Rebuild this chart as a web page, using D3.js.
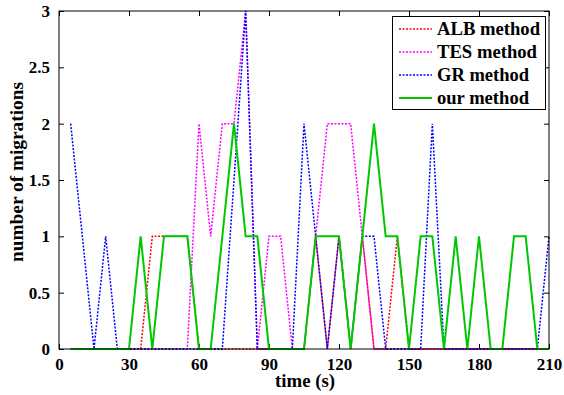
<!DOCTYPE html>
<html><head><meta charset="utf-8">
<script src="https://cdn.jsdelivr.net/npm/d3@7"></script>
<style>body{margin:0;background:#fff}svg{display:block}</style>
</head><body>
<svg id="c" width="564" height="395"></svg>
<script>
const times = d3.range(5, 215, 5);
const albValues = [0,0,0,0,0,0,0,1,1,1,1,0,0,0,0,0,0,0,0,0,0,1,0,1,0,1,0,0,1,0,0,0,0,0,0,0,0,0,0,0,0,0];
const tesValues = [0,0,0,0,0,0,0,0,0,0,0,2,1,2,2,3,0,1,1,0,0,1,2,2,2,1,0,0,0,0,0,0,0,0,0,0,0,0,0,0,0,0];
const grValues  = [2,1,0,1,0,0,0,0,0,0,0,0,0,0,1.5,3,0,0,0,0,2,1,0,1,0,1,1,0,0,0,0,2,0,0,0,0,0,0,0,0,0,1];
const ourValues = [0,0,0,0,0,0,1,0,1,1,1,0,0,1,2,1,1,0,0,0,0,1,1,1,0,1,2,1,1,0,1,1,0,1,0,1,0,0,1,1,0,0];
const seriesNames = ["ALB method","TES method","GR method","our method"];
const xTicks = [0,30,60,90,120,150,180,210];
const yTicks = [0,0.5,1,1.5,2,2.5,3];
const xLabel = "time (s)";
const yLabel = "number of migrations";

const series = [
  {name: seriesNames[0], values: albValues, color: "#ff0000", dash: "2,1.5", w: 1.5, tl: 103},
  {name: seriesNames[1], values: tesValues, color: "#ff00ff", dash: "2,1.5", w: 1.5, tl: 100},
  {name: seriesNames[2], values: grValues,  color: "#0000ff", dash: "2,1.5", w: 1.5, tl: 92},
  {name: seriesNames[3], values: ourValues, color: "#00c800", dash: null, w: 2, tl: 92}
];

const L = 59, R = 549, T = 11, B = 349;
const svg = d3.select("#c");
const x = d3.scaleLinear().domain([0,210]).range([L,R]);
const y = d3.scaleLinear().domain([0,3]).range([B,T]);
const font = "'Liberation Serif','Times New Roman',serif";

const tl = 5;
svg.append("g").attr("transform",`translate(0,${B})`)
  .call(d3.axisBottom(x).tickValues(xTicks).tickFormat(d3.format("d")).tickSizeInner(-tl).tickSizeOuter(0).tickPadding(9))
  .call(g=>g.select(".domain").remove());
svg.append("g").attr("transform",`translate(0,${T})`)
  .call(d3.axisTop(x).tickValues(xTicks).tickFormat("").tickSizeInner(-tl).tickSizeOuter(0))
  .call(g=>g.select(".domain").remove());
svg.append("g").attr("transform",`translate(${L},0)`)
  .call(d3.axisLeft(y).tickValues(yTicks).tickFormat(d=>d3.format("")(d)).tickSizeInner(-tl).tickSizeOuter(0).tickPadding(9))
  .call(g=>g.select(".domain").remove());
svg.append("g").attr("transform",`translate(${R},0)`)
  .call(d3.axisRight(y).tickValues(yTicks).tickFormat("").tickSizeInner(-tl).tickSizeOuter(0))
  .call(g=>g.select(".domain").remove());
svg.selectAll(".tick text").attr("font-family",font).attr("font-weight","bold").attr("font-size",17).attr("fill","#000");
svg.selectAll(".tick line").attr("stroke","#000");

const line = d3.line().x((d,i)=>x(times[i])).y(d=>y(d));
series.forEach(s=>{
  svg.append("path").datum(s.values).attr("d",line)
    .attr("fill","none").attr("stroke",s.color).attr("stroke-width",s.w)
    .attr("stroke-dasharray",s.dash).attr("stroke-linejoin","miter");
});

svg.append("rect").attr("x",L).attr("y",T).attr("width",R-L).attr("height",B-T)
  .attr("fill","none").attr("stroke","#000").attr("stroke-width",1);

svg.append("text").attr("x",(L+R)/2+1).attr("y",387).attr("text-anchor","middle")
  .attr("font-family",font).attr("font-weight","bold").attr("font-size",19)
  .attr("textLength",60).attr("lengthAdjust","spacingAndGlyphs").text(xLabel);
svg.append("text").attr("transform",`translate(23,${(T+B)/2-8}) rotate(-90)`).attr("text-anchor","middle")
  .attr("font-family",font).attr("font-weight","bold").attr("font-size",19)
  .attr("textLength",180).attr("lengthAdjust","spacingAndGlyphs").text(yLabel);

const lg = svg.append("g");
lg.append("rect").attr("x",392.5).attr("y",16.5).attr("width",153).attr("height",93)
  .attr("fill","#fff").attr("stroke","#000").attr("stroke-width",1);
series.forEach((s,i)=>{
  const yy = 29 + i*23;
  lg.append("line").attr("x1",399).attr("x2",432).attr("y1",yy).attr("y2",yy)
    .attr("stroke",s.color).attr("stroke-width",s.w).attr("stroke-dasharray",s.dash);
  lg.append("text").attr("x",437).attr("y",yy+6).attr("font-family",font).attr("font-weight","bold")
    .attr("font-size",18).attr("textLength",s.tl).attr("lengthAdjust","spacingAndGlyphs").text(s.name);
});
</script>
</body></html>
